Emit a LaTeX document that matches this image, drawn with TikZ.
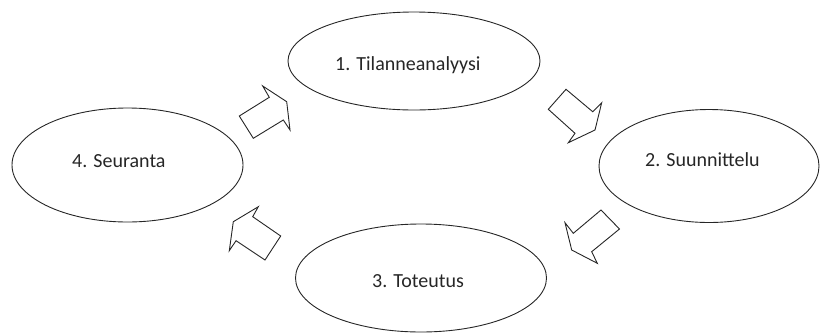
\documentclass[tikz,border=0pt]{standalone}
\usepackage{fontspec}
\setmainfont{Carlito}
\usetikzlibrary{shapes.geometric}
\tikzset{
  ell/.style={draw=black!85, line width=0.9pt, ellipse, inner sep=0pt},
  lbl/.style={anchor=base west, inner sep=0pt, text=black!85, font=\fontsize{20}{24}\selectfont},
  blockarrow/.style={draw=black!85, line width=0.9pt, line join=miter, fill=white}
}
\begin{document}
\begin{tikzpicture}[x=1pt,y=-1pt]
\useasboundingbox (0,0) rectangle (820,333);
% ellipses
\node[ell, minimum width=252pt, minimum height=98pt] (e1) at (414,61) {};
\node[ell, minimum width=220pt, minimum height=113pt] (e2) at (709,166) {};
\node[ell, minimum width=251pt, minimum height=108pt] (e3) at (421,278) {};
\node[ell, minimum width=231pt, minimum height=114pt] (e4) at (127.5,165) {};
% labels
\node[lbl] (t1) at (335,70) {1. Tilanneanalyysi};
\node[lbl] (t2) at (645,166) {2. Suunnittelu};
\node[lbl] (t3) at (372,287) {3. Toteutus};
\node[lbl] (t4) at (72,167) {4. Seuranta};
% block arrows
\draw[blockarrow] (239.3,116) -- (269.3,97.3) -- (262.7,86) -- (286.7,101.7) -- (290,130) -- (283.3,120) -- (253.3,138.3) -- cycle;
\draw[blockarrow] (566,89.3) -- (592.7,111.7) -- (601.7,102.7) -- (595,130) -- (568.3,142.7) -- (575,133.3) -- (548.3,109.3) -- cycle;
\draw[blockarrow] (601,210) -- (573.3,233.3) -- (565,222.7) -- (571.7,250) -- (597.3,263.3) -- (591.7,251.7) -- (619.5,229) -- cycle;
\draw[blockarrow] (280.7,236) -- (252.7,216.7) -- (258.3,206.7) -- (233.3,221.7) -- (229.3,250.7) -- (236,240.7) -- (265,260) -- cycle;
\end{tikzpicture}
\end{document}
